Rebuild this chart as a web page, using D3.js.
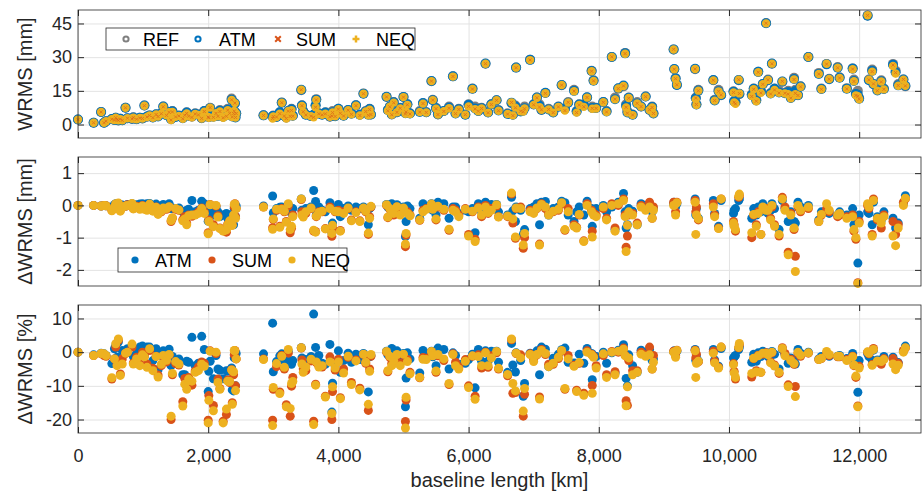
<!DOCTYPE html>
<html lang="en">
<head>
<meta charset="UTF-8">
<title>WRMS vs baseline length</title>
<script src="https://d3js.org/d3.v7.min.js"></script>
<style>
    body { margin: 0; background: #fff; }
    svg { display: block; font-family: 'Liberation Sans', Arial, Helvetica, sans-serif; }
</style>
</head>
<body>
<svg id="chart"></svg>
<script>
// baseline lengths [km]
const baselineKm = [
    0, 240, 355, 400, 430, 520, 560, 580, 600, 620,
    650, 680, 730, 760, 830, 850, 900, 950, 990, 1020,
    1060, 1100, 1150, 1200, 1230, 1280, 1310, 1360, 1400, 1430,
    1450, 1500, 1550, 1610, 1640, 1670, 1700, 1750, 1800, 1850,
    1900, 1940, 2000, 2010, 2030, 2080, 2120, 2150, 2180, 2230,
    2280, 2300, 2330, 2360, 2370, 2390, 2400, 2410, 2420, 2430,
    2850, 2990, 3000, 3050, 3100, 3130, 3170, 3200, 3230, 3260,
    3280, 3300, 3430, 3440, 3460, 3500, 3580, 3620, 3650, 3660,
    3700, 3750, 3800, 3870, 3900, 3910, 3950, 4000, 4030, 4080,
    4150, 4200, 4270, 4330, 4385, 4420, 4460, 4480, 4500, 4740,
    4760, 4790, 4820, 4850, 4900, 4950, 5000, 5030, 5040, 5060,
    5100, 5250, 5300, 5350, 5430, 5450, 5500, 5530, 5620, 5700,
    5760, 5800, 5850, 5950, 6000, 6060, 6100, 6150, 6200, 6260,
    6300, 6350, 6430, 6460, 6600, 6660, 6680, 6720, 6730, 6800,
    6840, 6860, 6945, 7000, 7050, 7090, 7120, 7180, 7230, 7300,
    7380, 7430, 7480, 7530, 7620, 7660, 7700, 7770, 7820, 7890,
    7900, 7920, 7960, 8070, 8120, 8200, 8250, 8300, 8380, 8405,
    8420, 8440, 8460, 8520, 8590, 8650, 8720, 8780, 8820, 8840,
    9150, 9160, 9180, 9200, 9480, 9490, 9500, 9530, 9760, 9780,
    9840, 9880, 10070, 10080, 10100, 10150, 10160, 10350, 10380, 10420,
    10450, 10490, 10520, 10570, 10600, 10640, 10660, 10700, 10770, 10820,
    10860, 10910, 10950, 11000, 11020, 11060, 11100, 11220, 11380, 11420,
    11500, 11540, 11670, 11700, 11810, 11900, 11920, 11950, 11980, 12000,
    12130, 12150, 12200, 12220, 12280, 12340, 12380, 12520, 12560, 12600,
    12680, 12710
];

// WRMS of the reference solution [mm]
const wrmsRef = [
    2.2, 0.8, 5.6, 0.8, 1.5, 2.5, 2.0, 3.0, 2.3, 1.8,
    2.6, 1.9, 7.5, 2.8, 2.5, 3.2, 2.4, 3.0, 2.7, 8.5,
    3.5, 4.0, 3.2, 4.5, 3.8, 5.0, 8.0, 4.2, 5.5, 2.5,
    6.0, 3.5, 4.0, 3.0, 4.5, 5.5, 4.0, 3.5, 5.0, 4.5,
    2.8, 6.0, 4.2, 3.5, 7.5, 3.8, 5.0, 4.0, 6.5, 3.8,
    4.5, 7.0, 5.5, 11.6, 4.0, 5.2, 6.0, 9.5, 3.5, 5.0,
    4.1, 3.4, 4.0, 3.5, 5.5, 9.8, 4.0, 3.2, 6.0, 4.5,
    7.0, 4.0, 15.3, 8.6, 6.0, 4.5, 3.8, 4.0, 8.5, 11.3,
    5.0, 4.5, 5.5, 3.5, 4.8, 6.0, 3.8, 7.0, 5.8, 4.0,
    6.5, 5.0, 8.6, 4.5, 13.8, 6.0, 5.0, 7.0, 4.5, 12.3,
    6.5, 8.0, 4.5, 10.0, 5.5, 7.5, 12.3, 6.0, 6.5, 9.0,
    5.0, 6.0, 9.5, 5.5, 19.3, 11.0, 7.5, 4.5, 6.0, 8.0,
    21.5, 5.0, 7.0, 4.5, 9.0, 16.0, 8.0, 6.0, 7.5, 27.1,
    5.5, 9.0, 10.8, 6.5, 5.0, 9.5, 4.5, 8.5, 25.4, 6.0,
    7.0, 8.0, 28.9, 9.0, 12.0, 9.0, 6.5, 14.0, 7.0, 5.5,
    8.0, 17.5, 7.0, 10.0, 15.5, 6.0, 9.0, 9.0, 12.0, 23.9,
    8.0, 19.7, 7.5, 10.0, 6.0, 30.1, 12.0, 16.0, 17.0, 31.9,
    9.0, 6.0, 12.0, 4.5, 10.0, 8.0, 12.5, 6.5, 8.0, 5.0,
    33.4, 24.6, 20.6, 17.6, 24.6, 12.0, 9.0, 15.5, 19.7, 11.0,
    15.5, 13.0, 14.8, 10.5, 10.0, 19.7, 13.5, 13.5, 16.0, 11.0,
    23.5, 15.0, 18.0, 45.2, 20.0, 14.0, 27.1, 16.0, 15.0, 19.0,
    14.0, 15.0, 12.0, 20.8, 15.5, 13.0, 17.0, 30.1, 23.0, 16.0,
    27.0, 20.4, 25.6, 21.0, 16.2, 25.0, 20.0, 14.0, 15.0, 11.8,
    48.6, 20.0, 24.5, 17.9, 15.5, 19.7, 16.0, 27.0, 24.0, 18.0,
    20.0, 17.0
];

// WRMS difference to the reference [mm]
const dAtm = [
    0, 0, -0.02, 0, -0.01, -0.05, 0.02, 0.05, -0.03, 0.06,
    -0.05, 0.01, -0.02, 0.03, 0.05, -0.04, 0.02, 0.04, 0.05, -0.05,
    0.05, 0.06, -0.08, 0.04, -0.2, -0.05, 0.03, -0.06, 0.05, -0.1,
    -0.08, -0.1, -0.08, -0.2, -0.3, -0.15, -0.12, 0.15, -0.2, -0.15,
    0.13, 0.05, -0.49, -0.2, -0.2, -0.3, -0.05, -0.2, -0.35, -0.3,
    -0.25, -0.4, -0.3, -0.55, -0.45, -0.6, -0.1, -0.08, -0.35, -0.02,
    -0.02, 0.29, -0.23, -0.1, -0.06, -0.05, -0.1, -0.04, 0.02, -0.15,
    -0.25, -0.1, 0.2, -0.15, -0.2, -0.1, -0.05, 0.46, 0.12, -0.3,
    -0.05, -0.15, -0.2, 0.08, -0.85, -0.55, -0.15, 0.03, -0.35, -0.1,
    -0.02, -0.15, -0.05, -0.1, -0.05, -0.15, -0.6, -0.1, -0.05, 0.03,
    -0.05, -0.08, 0.05, -0.1, 0.02, -0.15, -0.05, -0.97, -0.5, -0.02,
    -0.1, -0.4, 0.05, -0.05, 0.05, -0.15, -0.3, 0.1, 0.05, -0.4,
    -0.05, -0.05, -0.25, -0.15, -0.2, -0.1, -0.85, 0.05, -0.2, 0.1,
    -0.15, 0.03, 0.03, -0.2, -0.3, 0.25, -0.17, -0.5, -0.05, -0.15,
    -0.9, -0.75, -0.1, -0.05, 0.05, -0.6, 0.1, 0.12, -0.3, -0.1,
    -0.05, 0.13, 0.08, -0.3, -0.5, -0.2, -0.05, -0.3, 0.13, -0.1,
    -0.65, -0.2, -0.1, 0, -0.2, -0.05, -0.75, 0.1, 0.37, -0.2,
    -0.7, -0.6, -0.1, -0.18, -0.6, 0.05, 0, 0.05, -0.2, -0.1,
    0.05, 0.1, -0.05, 0.05, 0.2, -0.3, -0.1, -0.4, 0.15, -0.25,
    -0.65, 0.15, -0.25, -0.15, -0.1, 0.15, 0.2, -0.4, -0.1, -0.3,
    -0.05, -0.2, 0.05, -0.1, -0.25, -0.15, 0.05, -0.1, -0.75, 0.15,
    -0.1, -0.5, -0.2, -0.5, -0.55, 0.1, -0.05, 0, -0.45, -0.2,
    -0.2, -0.25, -0.3, -0.2, -0.3, -0.1, -0.6, -0.4, -1.79, -0.3,
    -0.2, -0.25, -0.6, 0.1, -0.35, -0.45, -0.2, -0.4, -0.7, -0.55,
    0.05, 0.3
];
const dSum = [
    0, 0, -0.02, 0, -0.01, -0.15, -0.05, 0.03, -0.08, 0.05,
    -0.15, -0.04, -0.03, 0.02, 0.03, -0.1, -0.03, -0.1, 0, -0.1,
    -0.12, 0.02, -0.15, -0.05, -0.25, -0.2, -0.1, -0.12, -0.05, -0.5,
    -0.4, -0.12, -0.15, -0.44, -0.35, -0.55, -0.3, -0.34, -0.28, -0.2,
    -0.08, -0.2, -0.85, -0.45, 0.03, -0.6, -0.02, -0.32, -0.7, -0.78,
    -0.83, -0.58, -0.5, -0.6, -0.6, -0.35, -0.05, 0.05, -0.35, -0.1,
    -0.05, -0.69, -0.44, -0.15, -0.65, -0.1, -0.2, -0.5, -0.02, -0.85,
    -0.71, -0.3, 0.18, -0.2, -0.3, -0.25, -0.1, -0.8, -0.81, -0.35,
    -0.2, -0.2, -0.72, -0.05, -0.96, -0.7, -0.2, -0.15, -0.78, -0.2,
    -0.1, -0.45, -0.2, -0.48, -0.1, -0.2, -0.9, -0.35, -0.05, 0,
    -0.38, -0.12, -0.15, -0.3, -0.05, -0.25, -0.1, -1.28, -0.92, -0.2,
    -0.3, -0.46, -0.15, -0.1, 0.02, -0.1, -0.45, -0.05, -0.15, -0.77,
    -0.1, -0.15, -0.3, -0.1, -0.9, -0.2, -1.05, -0.05, -0.35, 0,
    -0.25, -0.1, -0.02, -0.35, -0.35, 0.35, -0.55, -1.02, -0.1, -0.05,
    -1.33, -1.0, -0.15, -0.2, -0.1, -1.2, 0.05, -0.1, -0.25, -0.2,
    -0.15, 0.05, -0.77, -0.1, -0.6, -0.68, -0.3, -1.1, 0.05, -0.15,
    -0.8, -0.25, -0.3, -0.1, -0.4, 0.05, -0.7, 0, 0.2, -0.3,
    -1.3, -0.95, -0.3, -0.25, -0.55, 0, -0.1, 0.1, -0.4, -0.05,
    0.1, 0.05, -0.2, 0.1, 0.15, -0.2, -0.05, -0.45, 0.05, -0.3,
    -0.7, 0.2, -0.5, -0.6, -0.8, 0.25, 0.3, -1.0, -0.3, -0.6,
    -0.2, -0.9, -0.1, -0.1, -0.1, -0.4, -0.05, -0.6, -0.95, 0.25,
    -0.05, -1.45, -0.25, -0.75, -1.58, -0.05, -0.2, -0.1, -0.5, -0.3,
    -0.1, -0.2, -0.35, -0.3, -0.35, -0.3, -0.8, -1.05, -2.4, -0.5,
    0, -0.1, -0.9, 0.2, -0.45, -0.7, -0.3, -0.5, -0.9, -0.6,
    0.1, 0.2
];
const dNeq = [
    0, 0, -0.02, 0, -0.01, -0.17, -0.05, 0.05, -0.1, 0.07,
    -0.18, -0.06, -0.02, 0, 0.06, -0.11, -0.05, -0.12, -0.02, -0.12,
    -0.15, 0.04, -0.18, -0.06, -0.28, -0.18, -0.08, -0.1, -0.04, -0.47,
    -0.38, -0.1, -0.14, -0.48, -0.42, -0.6, -0.32, -0.3, -0.3, -0.25,
    -0.1, -0.25, -0.88, -0.5, 0.02, -0.66, 0, -0.36, -0.72, -0.8,
    -0.76, -0.6, -0.48, -0.62, -0.62, -0.3, 0.03, 0.04, -0.4, -0.1,
    -0.05, -0.74, -0.42, -0.12, -0.68, -0.12, -0.18, -0.52, 0.05, -0.75,
    -0.65, -0.35, 0.2, -0.3, -0.36, -0.2, -0.08, -0.77, -0.83, -0.33,
    -0.22, -0.18, -0.73, -0.1, -0.87, -0.62, -0.18, -0.2, -0.8, -0.25,
    -0.08, -0.48, -0.22, -0.5, -0.08, -0.18, -0.86, -0.4, -0.03, 0.02,
    -0.36, -0.1, -0.18, -0.25, -0.04, -0.3, -0.08, -1.2, -0.87, -0.25,
    -0.32, -0.45, -0.2, -0.12, 0.04, -0.12, -0.42, -0.03, -0.12, -0.74,
    -0.15, -0.2, -0.35, -0.12, -0.95, -0.18, -1.12, -0.08, -0.3, -0.05,
    -0.22, -0.15, 0.02, -0.36, -0.33, 0.38, -0.42, -0.98, -0.08, -0.1,
    -1.23, -0.87, -0.2, -0.25, -0.08, -1.23, 0.03, -0.05, -0.3, -0.18,
    -0.12, 0.08, -0.75, -0.2, -0.65, -0.7, -0.28, -1.12, 0, -0.2,
    -0.98, -0.3, -0.35, -0.05, -0.45, 0, -0.8, 0.05, 0.15, -0.35,
    -1.43, -0.62, -0.2, -0.3, -0.6, -0.05, -0.15, -0.05, -0.4, -0.15,
    0, 0, -0.3, 0.08, 0.1, -0.9, -0.3, -0.42, -0.05, -0.35,
    -0.72, 0.2, -0.55, -0.65, -0.75, 0.28, 0.35, -0.85, -0.28, -0.65,
    -0.25, -0.9, -0.05, -0.15, -0.15, -0.45, 0, -0.65, -0.9, 0.2,
    -0.15, -1.53, -0.3, -0.7, -2.05, 0, -0.15, -0.05, -0.5, -0.28,
    0.05, -0.15, -0.3, -0.25, -0.4, -0.35, -0.75, -1.0, -2.42, -0.55,
    0.05, -0.05, -0.95, 0.15, -0.4, -0.55, -0.35, -0.95, -1.25, -0.7,
    0, 0.22
];

// WRMS difference to the reference [%]
const pAtm = [
    0, -0.8, -0.3, -0.5, -1, -3.4, 1, 2, -1.5, 3,
    -2, 0.5, -0.3, 1, 1.8, -1.3, 0.8, 1.5, 1.8, -0.6,
    1.5, 1.5, -2.5, 1, -5.2, -1, 0.4, -1.4, 0.9, -4,
    -1.3, -2.8, -2, -6.7, -6.7, -2.7, -3, 4.4, -4, -3.3,
    4.7, 0.8, -11.7, -5.7, -2.7, -7.9, -1, -5, -5.4, -7.9,
    -5.5, -5.7, -5.5, -4.7, -11.2, -11.5, -1.7, -0.8, -10, -0.4,
    -0.5, 8.6, -5.8, -2.8, -1.1, -0.5, -2.5, -1.2, 0.3, -3.3,
    -3.6, -2.5, 1.3, -1.7, -3.3, -2.2, -1.3, 11.3, 1.4, -2.7,
    -1, -3.3, -3.6, 2.3, -17.8, -9.2, -4, 0.4, -6, -2.5,
    -0.3, -3, -0.6, -2.2, -0.4, -2.5, -11.8, -1.4, -1, 0.3,
    -0.8, -1, 1.1, -1, 0.4, -2, -0.4, -16.2, -7.7, -0.2,
    -2, -6.2, 0.5, -0.9, 0.3, -1.4, -4, 1.2, 0.8, -5,
    -0.2, -1, -3.6, -3.3, -2.2, -0.6, -10.6, 0.8, -2.7, 0.4,
    -2.7, 0.3, 0.3, -3, -6, 2.6, -3.8, -5.9, -0.2, -2.5,
    -13.1, -9.3, -0.3, -0.6, 0.4, -6.7, 1.5, 0.9, -4.3, -1.8,
    -0.6, 0.7, 1.2, -3, -3.2, -3.3, -0.6, -3.3, 1.1, -0.4,
    -8.2, -1, -1.3, 0, -3.3, -0.2, -6.2, 0.6, 2.2, -0.6,
    -7.8, -10, -0.8, -4, -6, 0.6, 0, 0.8, -2.5, -2,
    0.1, 0.4, -0.2, 0.3, 0.8, -2.5, -1.1, -2.6, 0.8, -2.3,
    -4.2, 1.1, -1.7, -1.4, -1, 0.8, 1.5, -3, -0.6, -2.7,
    -0.2, -1.3, 0.3, -0.2, -1.3, -1.1, 0.2, -0.6, -5, 0.8,
    -0.7, -3.3, -1.7, -2.4, -3.5, 0.8, -0.3, 0, -2, -1.3,
    -0.7, -1.2, -1.2, -1, -1.9, -0.4, -3, -2.9, -11.9, -2.5,
    -0.4, -1.3, -2.4, 0.6, -2.3, -2.3, -1.3, -1.5, -2.9, -3.1,
    0.3, 1.8
];
const pSum = [
    0, -1, -0.5, -1, -1.2, -8, -2, 1.5, -3.5, 3.5,
    -6.5, -2, -0.4, 0, 1.5, -3.2, -1.5, -3.5, 0, -1.2,
    -3.5, 0.5, -4.8, -1.2, -6.8, -4, -1.2, -2.9, -0.9, -20,
    -6.7, -3.4, -3.8, -14.7, -7.8, -10, -7.5, -9.8, -5.6, -4.4,
    -2.9, -3.3, -20.2, -12.9, 0.4, -15.8, -0.4, -8, -10.8, -20.5,
    -18.5, -8.3, -9, -5.2, -15, -6.7, -0.8, 0.5, -10, -2,
    -2, -20.2, -11, -4.3, -11.8, -1, -5, -15.6, -0.3, -19,
    -10.1, -7.5, 1.2, -2.3, -5, -5.5, -2.6, -20.5, -9.5, -3.1,
    -4, -4.4, -13.1, -1.4, -20, -11.7, -5.3, -2.1, -13.5, -5,
    -1.5, -9, -2.3, -10.7, -0.7, -3.3, -17.3, -5, -1.2, 0,
    -5.8, -1.5, -3.3, -3, -0.9, -3.3, -0.8, -20.6, -14.2, -2.2,
    -6, -7.6, -1.6, -1.8, 0.1, -0.9, -6, -1.1, -2.5, -9.6,
    -0.5, -3, -4.3, -2.2, -10, -1.2, -13.1, -0.8, -4.7, 0,
    -4.5, -1.1, -0.2, -5, -7, 3.7, -12.2, -12, -0.4, -0.8,
    -19, -12.5, -0.5, -2.2, -0.8, -13.3, 0.8, -0.7, -3.6, -3.6,
    -1.9, 0.3, -11, -1, -3.9, -11.3, -3.3, -12.2, 0.4, -0.6,
    -9.9, -1.3, -4, -1, -6.7, 0.2, -5.8, 0, 1.2, -0.9,
    -14.4, -15.8, -2.5, -5.5, -5.5, 0, -0.8, 1.5, -5, -1,
    0.3, 0.2, -1, 0.6, 0.6, -1.7, -0.6, -2.9, 0.3, -2.7,
    -4.5, 1.5, -3.4, -5.7, -8, 1.3, 2.2, -7.4, -1.9, -5.5,
    -0.9, -6, -0.6, -0.2, -0.5, -2.9, -0.2, -3.8, -6.3, 1.3,
    -0.4, -9.7, -2.1, -3.6, -10.2, -0.4, -1.2, -0.3, -2.2, -1.9,
    -0.4, -1, -1.4, -1.4, -2.2, -1.2, -4, -7.5, -16, -4.2,
    0, -0.5, -3.7, 1.1, -2.9, -3.6, -1.9, -1.9, -3.8, -3.3,
    0.5, 1.2
];
const pNeq = [
    0, -1, -0.4, -0.5, -1, -7.6, -2, 2.5, -4, 3.9,
    -6.9, -3.5, -0.3, 0, 2.4, -3.5, -2, -4, -0.8, -1.4,
    -4.5, 1, -5.5, -1.3, -7.4, -3.6, -1, -2.4, -0.7, -19,
    -6.3, -2.8, -3.5, -16, -9.5, -11, -8, -8.6, -6, -5.5,
    -3.6, -4.2, -21, -14.3, 0.3, -17.4, 0, -9, -11, -21,
    -16.9, -8.6, -8.7, -5.3, -15.5, -5.8, 0.5, 0.4, -11.4, -2,
    -2.2, -21.8, -10.5, -3.4, -12.3, -1.2, -4.5, -16.2, 0.8, -16.7,
    -9.3, -8.7, 1.3, -3.5, -6, -4.4, -2.1, -21.5, -9.8, -2.9,
    -4.4, -4, -13.3, -2.9, -18.2, -10.3, -4.7, -2.9, -13.8, -6.2,
    -1.2, -9.6, -2.6, -11.2, -0.6, -3, -15.5, -5.7, -0.7, 0.2,
    -5.5, -1.2, -4, -2.5, -0.7, -4, -0.6, -22.5, -13.4, -2.8,
    -6.4, -7.5, -2.1, -2.2, 0.2, -1.1, -5.6, -0.7, -2, -9.3,
    -0.7, -4, -5, -2.7, -10.5, -1.1, -14, -1.3, -4, -0.2,
    -4, -1.7, 0.2, -4.8, -6.6, 3.9, -9.3, -11.5, -0.3, -1.7,
    -17.5, -10.8, -0.7, -2.8, -0.7, -13.9, 0.5, -0.4, -4.3, -3.3,
    -1.5, 0.5, -10.8, -2, -4.2, -11.7, -3.1, -12.8, 0, -0.8,
    -12.2, -1.5, -4.7, -0.5, -7.5, 0, -6.7, 0.3, 0.9, -1.1,
    -15.9, -10.3, -1.7, -6.7, -6, -0.6, -1.2, -0.8, -5, -3,
    0, 0, -1.5, 0.5, 0.4, -7.5, -3.3, -2.7, -0.3, -3.2,
    -4.7, 1.5, -3.7, -6.2, -7.5, 1.4, 2.6, -6.3, -1.8, -5.9,
    -1.1, -6, -0.3, -0.3, -0.8, -3.2, 0, -4.1, -6, 1.1,
    -1.1, -10.2, -2.5, -3.4, -13.2, 0, -0.9, -0.2, -2.2, -1.8,
    0.2, -0.7, -1.2, -1.2, -2.5, -1.4, -3.8, -7.1, -16.2, -4.7,
    0.1, -0.3, -3.9, 0.8, -2.6, -2.8, -2.2, -3.5, -5.2, -3.9,
    0, 1.3
];

// axis ticks
const xTickValues = [0, 2000, 4000, 6000, 8000, 10000, 12000];
const yTicksWrms = [0, 15, 30, 45];
const yTicksDmm = [-2, -1, 0, 1];
const yTicksDpct = [-20, -10, 0, 10];

const colors = {REF: '#808080', ATM: '#0072BD', SUM: '#D95319', NEQ: '#EDB120'};

const W = 922, H = 493;
const left = 78, right = 921;
const svg = d3.select('#chart').attr('width', W).attr('height', H);
const x = d3.scaleLinear().domain([0, 12950]).range([left, right]);

const panels = [
    {top: 10, bottom: 138, domain: [-6, 51], ticks: yTicksWrms, label: 'WRMS [mm]'},
    {top: 157, bottom: 286, domain: [-2.5, 1.5], ticks: yTicksDmm, label: '\u0394WRMS [mm]'},
    {top: 305, bottom: 433, domain: [-24, 14], ticks: yTicksDpct, label: '\u0394WRMS [%]'}
];

function styleTicks(sel) {
    sel.select('.domain').remove();
    sel.selectAll('line').attr('stroke', '#262626');
    sel.selectAll('text').attr('font-size', 18).attr('fill', '#262626')
        .attr('font-family', "'Liberation Sans', Arial, sans-serif");
}

panels.forEach(function (p, k) {
    p.y = d3.scaleLinear().domain(p.domain).range([p.bottom, p.top]);
    p.g = svg.append('g');
    // grid
    p.g.append('g').attr('transform', 'translate(0,' + p.bottom + ')')
        .call(d3.axisBottom(x).tickValues(xTickValues).tickSize(-(p.bottom - p.top)).tickFormat(''))
        .call(function (s) { s.select('.domain').remove(); s.selectAll('line').attr('stroke', '#e3e3e3'); });
    p.g.append('g').attr('transform', 'translate(' + left + ',0)')
        .call(d3.axisLeft(p.y).tickValues(p.ticks).tickSize(-(right - left)).tickFormat(''))
        .call(function (s) { s.select('.domain').remove(); s.selectAll('line').attr('stroke', '#e3e3e3'); });
});

function dots(p, yv, color, r) {
    p.g.append('g').selectAll('circle').data(baselineKm).join('circle')
        .attr('cx', function (d) { return x(d); })
        .attr('cy', function (d, i) { return p.y(yv[i]); })
        .attr('r', r)
        .attr('fill', color);
}

// top: absolute WRMS
const pt = panels[0];
dots(pt, wrmsRef, colors.REF, 5);
dots(pt, wrmsRef.map(function (v, i) { return v + dAtm[i]; }), colors.ATM, 5);
dots(pt, wrmsRef.map(function (v, i) { return v + dNeq[i]; }), colors.NEQ, 4.2);
pt.g.append('g').selectAll('path').data(baselineKm).join('path')
    .attr('transform', function (d, i) { return 'translate(' + x(d) + ',' + pt.y(wrmsRef[i] + dSum[i]) + ')'; })
    .attr('d', 'M-1.5,-1.5L1.5,1.5M-1.5,1.5L1.5,-1.5')
    .attr('stroke', colors.SUM).attr('stroke-width', 1).attr('opacity', 0.6);

// middle: differences in mm
dots(panels[1], dAtm, colors.ATM, 4.5);
dots(panels[1], dSum, colors.SUM, 4.5);
dots(panels[1], dNeq, colors.NEQ, 4.5);

// bottom: differences in percent
dots(panels[2], pAtm, colors.ATM, 4.5);
dots(panels[2], pSum, colors.SUM, 4.5);
dots(panels[2], pNeq, colors.NEQ, 4.5);

// frames, ticks, labels
panels.forEach(function (p, k) {
    const g = svg.append('g');
    g.append('rect').attr('x', left).attr('y', p.top)
        .attr('width', right - left).attr('height', p.bottom - p.top)
        .attr('fill', 'none').attr('stroke', '#262626').attr('stroke-width', 0.8);
    g.append('g').attr('transform', 'translate(' + left + ',0)')
        .call(d3.axisLeft(p.y).tickValues(p.ticks).tickSize(-6).tickPadding(6)
            .tickFormat(function (d) { return String(d); })).call(styleTicks);
    g.append('g').attr('transform', 'translate(' + right + ',0)')
        .call(d3.axisRight(p.y).tickValues(p.ticks).tickSize(-6).tickFormat('')).call(styleTicks);
    g.append('g').attr('transform', 'translate(0,' + p.top + ')')
        .call(d3.axisTop(x).tickValues(xTickValues).tickSize(-6).tickFormat('')).call(styleTicks);
    g.append('g').attr('transform', 'translate(0,' + p.bottom + ')')
        .call(d3.axisBottom(x).tickValues(xTickValues).tickSize(-6).tickPadding(16)
            .tickFormat(k === 2 ? d3.format(',') : '')).call(styleTicks);
    g.append('text')
        .attr('transform', 'translate(32,' + (p.top + p.bottom) / 2 + ') rotate(-90)')
        .attr('text-anchor', 'middle').attr('font-size', 20).attr('fill', '#262626')
        .text(p.label);
});

svg.append('text').attr('x', (left + right) / 2).attr('y', 487)
    .attr('text-anchor', 'middle').attr('font-size', 20).attr('fill', '#262626')
    .text('baseline length [km]');

// legend top panel
const lg1 = svg.append('g');
lg1.append('rect').attr('x', 106).attr('y', 28).attr('width', 309).attr('height', 22)
    .attr('fill', '#fff').attr('stroke', '#262626').attr('stroke-width', 0.8);
const leg1 = [
    {name: 'REF', sx: 126, tx: 143},
    {name: 'ATM', sx: 198, tx: 219},
    {name: 'SUM', sx: 278, tx: 296},
    {name: 'NEQ', sx: 356, tx: 376}
];
leg1.forEach(function (d) {
    if (d.name === 'REF' || d.name === 'ATM') {
        lg1.append('circle').attr('cx', d.sx).attr('cy', 39).attr('r', 2.6)
            .attr('fill', 'none').attr('stroke', colors[d.name]).attr('stroke-width', 2);
    } else if (d.name === 'SUM') {
        lg1.append('path').attr('transform', 'translate(' + d.sx + ',39)')
            .attr('d', 'M-2.8,-2.8L2.8,2.8M-2.8,2.8L2.8,-2.8')
            .attr('stroke', colors.SUM).attr('stroke-width', 2);
    } else {
        lg1.append('path').attr('transform', 'translate(' + d.sx + ',39)')
            .attr('d', 'M-3.5,0H3.5M0,-3.5V3.5')
            .attr('stroke', colors.NEQ).attr('stroke-width', 2.5);
    }
    lg1.append('text').attr('x', d.tx).attr('y', 45.5).attr('font-size', 18).attr('fill', '#000').text(d.name);
});

// legend middle panel
const lg2 = svg.append('g');
lg2.append('rect').attr('x', 118).attr('y', 248).attr('width', 229).attr('height', 24)
    .attr('fill', '#fff').attr('stroke', '#262626').attr('stroke-width', 0.8);
const leg2 = [
    {name: 'ATM', sx: 135, tx: 155},
    {name: 'SUM', sx: 212, tx: 232},
    {name: 'NEQ', sx: 292, tx: 311}
];
leg2.forEach(function (d) {
    lg2.append('circle').attr('cx', d.sx).attr('cy', 260).attr('r', 3.6).attr('fill', colors[d.name]);
    lg2.append('text').attr('x', d.tx).attr('y', 266.5).attr('font-size', 18).attr('fill', '#000').text(d.name);
});
</script>
</body>
</html>
